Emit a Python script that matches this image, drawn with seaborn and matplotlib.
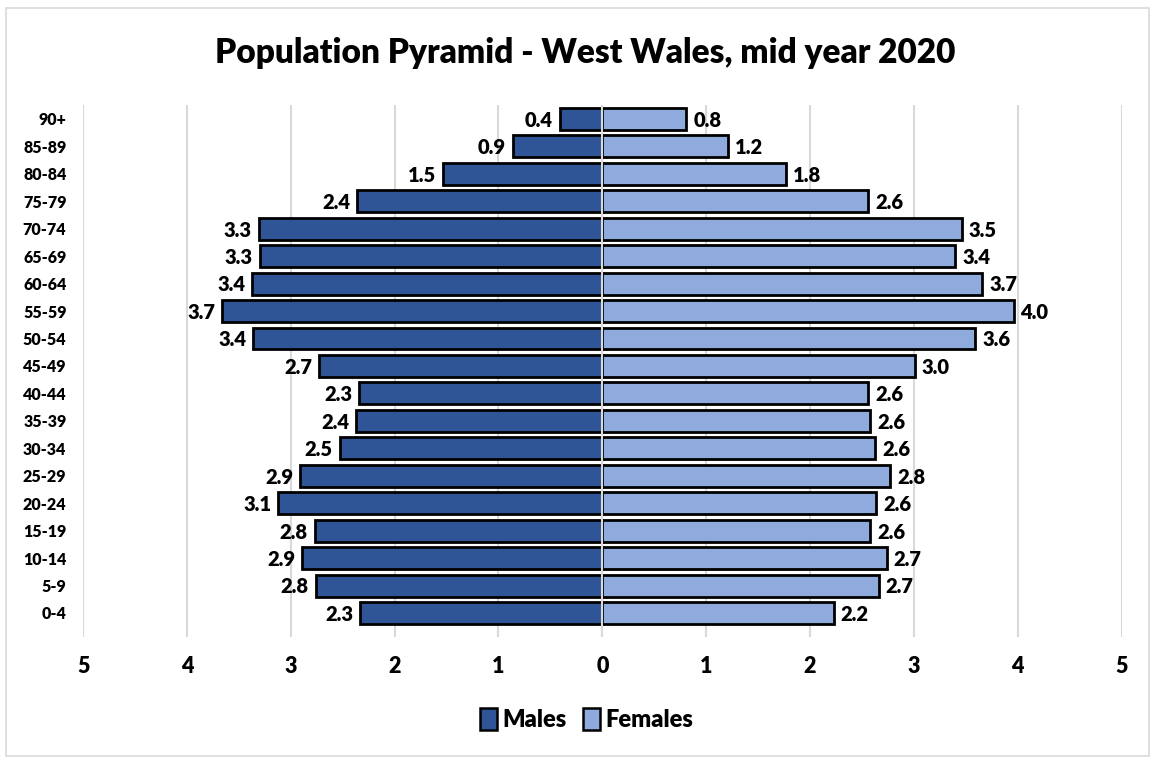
import pandas as pd
import matplotlib.pyplot as plt
import seaborn as sns
from matplotlib.patches import Patch, Rectangle

# Datos (porcentaje de población por grupo de edad)
edades = ['0-4', '5-9', '10-14', '15-19', '20-24', '25-29', '30-34', '35-39',
          '40-44', '45-49', '50-54', '55-59', '60-64', '65-69', '70-74',
          '75-79', '80-84', '85-89', '90+']
hombres = [2.33, 2.76, 2.89, 2.77, 3.12, 2.91, 2.53, 2.37, 2.34, 2.73,
           3.36, 3.66, 3.37, 3.30, 3.31, 2.36, 1.53, 0.86, 0.41]
mujeres = [2.23, 2.66, 2.74, 2.58, 2.64, 2.77, 2.63, 2.58, 2.56, 3.01,
           3.59, 3.96, 3.66, 3.40, 3.46, 2.56, 1.77, 1.21, 0.81]
ticks_x = [-5, -4, -3, -2, -1, 0, 1, 2, 3, 4, 5]

df = pd.DataFrame({'edad': edades, 'hombres': hombres, 'mujeres': mujeres})
df['hombres_neg'] = -df['hombres']
orden = edades[::-1]

sns.set_style('white')
plt.rcParams['font.family'] = ['Lato', 'DejaVu Sans']
plt.rcParams['font.weight'] = 'heavy'
plt.rcParams['text.color'] = 'black'
plt.rcParams['xtick.color'] = 'black'
plt.rcParams['ytick.color'] = 'black'
peso = 'heavy'

fig = plt.figure(figsize=(11.55, 7.6), dpi=100)
ax = fig.add_axes([0.072, 0.162, 0.899, 0.70])

# Líneas de cuadrícula
for t in ticks_x:
    ax.axvline(t, color='#d9d9d9', lw=1.5, zorder=0)

sns.barplot(data=df, x='hombres_neg', y='edad', order=orden, color='#2f5597',
            edgecolor='black', linewidth=2, width=0.8, saturation=1, ax=ax, zorder=2)
sns.barplot(data=df, x='mujeres', y='edad', order=orden, color='#8faadc',
            edgecolor='black', linewidth=2, width=0.8, saturation=1, ax=ax, zorder=2)
ax.axvline(0, color='#d9d9d9', lw=1.5, zorder=3)

# Etiquetas de valores
for i, fila in df.set_index('edad').loc[orden].iterrows():
    pos = orden.index(i)
    ax.annotate(f"{fila['hombres']:.1f}", (-fila['hombres'], pos), xytext=(-5, -1),
                textcoords='offset points', ha='right', va='center',
                fontsize=14.5, fontweight=peso)
    ax.annotate(f"{fila['mujeres']:.1f}", (fila['mujeres'], pos), xytext=(5, -1),
                textcoords='offset points', ha='left', va='center',
                fontsize=14.5, fontweight=peso)

ax.set_xlim(-5, 5)
ax.set_ylim(18.87, -0.51)
ax.set_xticks(ticks_x)
ax.set_xticklabels([str(abs(t)) for t in ticks_x], fontsize=15.5, fontweight=peso)
ax.tick_params(axis='x', pad=14, length=0)
ax.tick_params(axis='y', pad=12, length=0, labelsize=11.5)
for lab in ax.get_yticklabels():
    lab.set_fontweight(peso)
ax.set_xlabel('')
ax.set_ylabel('')
sns.despine(ax=ax, left=True, bottom=True)

fig.text(0.507, 0.93, 'Population Pyramid - West Wales, mid year 2020',
         ha='center', va='center', fontsize=24, fontweight=peso)

handles = [Patch(facecolor='#2f5597', edgecolor='black', linewidth=1.8, label='Males'),
           Patch(facecolor='#8faadc', edgecolor='black', linewidth=1.8, label='Females')]
fig.legend(handles=handles, loc='center', bbox_to_anchor=(0.508, 0.053), ncol=2,
           frameon=False, prop={'weight': peso, 'size': 17},
           handlelength=0.7, handleheight=1.0, handletextpad=0.25, columnspacing=0.7)

# Marco exterior
fig.patches.append(Rectangle((0.005, 0.005), 0.99, 0.985, transform=fig.transFigure,
                             fill=False, edgecolor='#d9d9d9', lw=1.2))

fig.savefig('out.png', dpi=100)
